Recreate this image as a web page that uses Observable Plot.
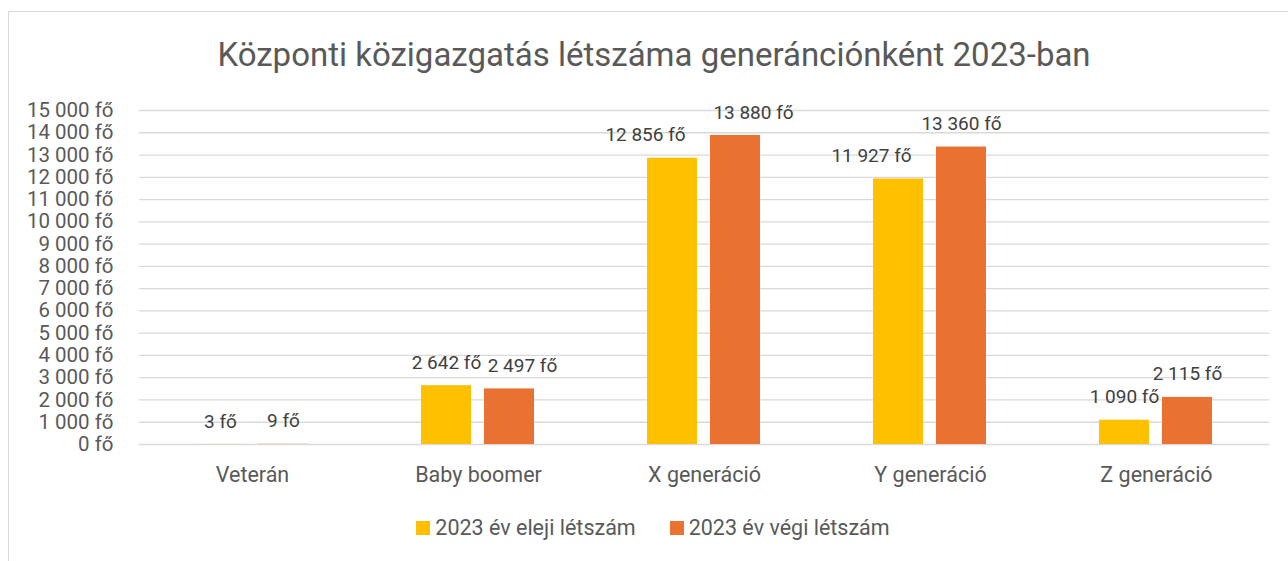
<!DOCTYPE html>
<html>
<head>
<meta charset="utf-8">
<script src="https://cdn.jsdelivr.net/npm/d3@7"></script>
<script src="https://cdn.jsdelivr.net/npm/@observablehq/plot@0.6"></script>
<style>
  html, body { margin: 0; padding: 0; background: #fff; overflow: hidden; }
  body { width: 1288px; height: 561px; position: relative; font-family: Roboto, "Liberation Sans", sans-serif; color: #595959; }
  #frame { position: absolute; left: 8px; top: 11px; width: 1292px; height: 600px; border: 1px solid #d9d9d9; box-sizing: border-box; }
  #title { position: absolute; left: 0; top: 35px; width: 1308px; text-align: center; font-size: 33px; line-height: 40px; color: #595959; }
  #chart { position: absolute; left: 0; top: 80px; }
  #legend { position: absolute; left: 0; top: 515px; width: 1306px; display: flex; justify-content: center; gap: 34px; font-size: 21.5px; line-height: 26px; }
  .item { display: flex; align-items: center; gap: 5px; }
  .sw { width: 14px; height: 14px; display: inline-block; }
</style>
</head>
<body>
<div id="frame"></div>
<div id="title">Központi közigazgatás létszáma generánciónként 2023-ban</div>
<div id="chart"></div>
<div id="legend"></div>
<script>
const categories = ["Veterán", "Baby boomer", "X generáció", "Y generáció", "Z generáció"];
const series = ["2023 év eleji létszám", "2023 év végi létszám"];
const startValues = [3, 2642, 12856, 11927, 1090];
const endValues = [9, 2497, 13880, 13360, 2115];
const yTicks = [0, 1000, 2000, 3000, 4000, 5000, 6000, 7000, 8000, 9000, 10000, 11000, 12000, 13000, 14000, 15000];
const colors = ["#FFC000", "#E97132"];

const data = categories.flatMap((c, i) => [
  {cat: c, series: series[0], value: startValues[i]},
  {cat: c, series: series[1], value: endValues[i]}
]);

const fmt = v => d3.format(",")(v).replace(/,/g, "\u00a0") + "\u00a0fő";

// labels that were nudged sideways in the original chart
const isShiftedLeft = d => d.series === series[0] && (d.cat === categories[2] || d.cat === categories[3]);
const isShiftedRightBB = d => d.series === series[1] && d.cat === categories[1];
const isShiftedRightX = d => d.series === series[1] && d.cat === categories[2];
const isCentered = d => !isShiftedLeft(d) && !isShiftedRightBB(d) && !isShiftedRightX(d);

const labelOpts = (filter, dx) => ({fx: "cat", x: "series", y: "value", text: d => fmt(d.value), filter, dx, dy: -23, fontSize: 19, fill: "#404040"});

const chart = Plot.plot({
  width: 1288,
  height: 420,
  marginTop: 30,
  marginBottom: 56,
  marginLeft: 137,
  marginRight: 18,
  style: {fontFamily: "Roboto, sans-serif", color: "#595959", background: "transparent"},
  fx: {domain: categories, padding: 0, label: null},
  x: {domain: series, axis: null, paddingInner: 0.2, paddingOuter: 0.87},
  y: {domain: [0, 15000], label: null},
  color: {domain: series, range: colors},
  marks: [
    Plot.gridY(yTicks, {stroke: "#d9d9d9", strokeOpacity: 1, strokeWidth: 1.3}),
    Plot.axisY(yTicks, {tickSize: 0, tickPadding: 26, fontSize: 20.5, tickFormat: fmt, fill: "#595959", label: null}),
    Plot.barY(data, {fx: "cat", x: "series", y: "value", fill: "series"}),
    Plot.text(data, labelOpts(isCentered, 0)),
    Plot.text(data, labelOpts(isShiftedLeft, -27)),
    Plot.text(data, labelOpts(isShiftedRightBB, 13)),
    Plot.text(data, labelOpts(isShiftedRightX, 18)),
    Plot.axisFx({anchor: "bottom", tickSize: 0, tickPadding: 22, fontSize: 21.5, fill: "#595959", label: null})
  ]
});
document.getElementById("chart").appendChild(chart);

const legend = document.getElementById("legend");
series.forEach((s, i) => {
  const item = document.createElement("div");
  item.className = "item";
  const sw = document.createElement("span");
  sw.className = "sw";
  sw.style.background = colors[i];
  const t = document.createElement("span");
  t.textContent = s;
  item.appendChild(sw);
  item.appendChild(t);
  legend.appendChild(item);
});
</script>
</body>
</html>
